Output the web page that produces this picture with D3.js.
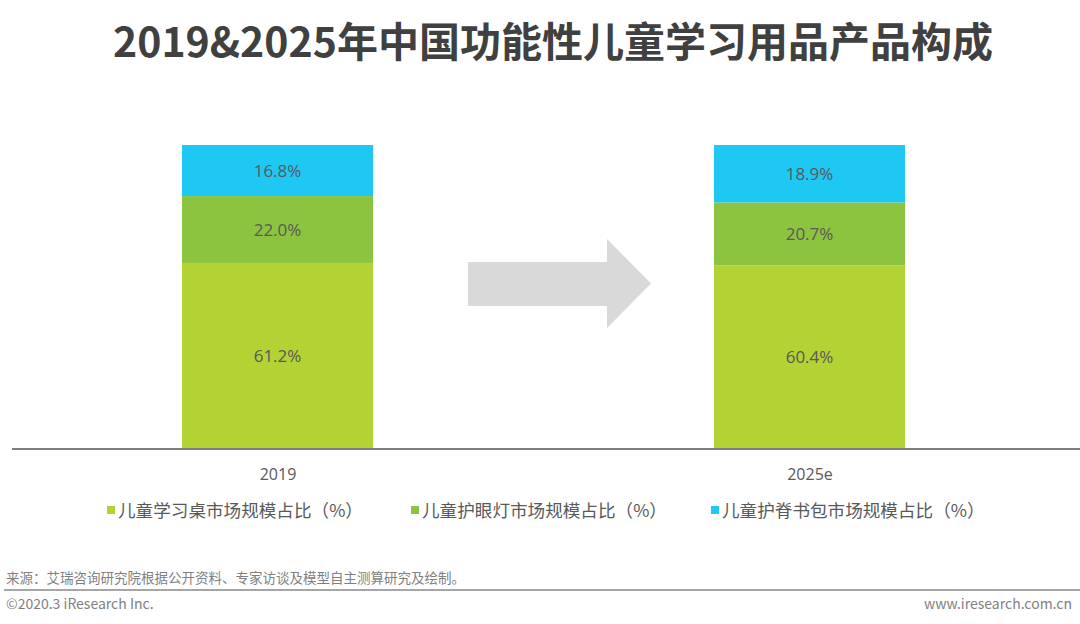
<!DOCTYPE html>
<html><head><meta charset="utf-8">
<script src="https://cdn.jsdelivr.net/npm/d3@7"></script>
<style>body{margin:0;background:#fff}svg{display:block}</style>
</head><body>
<svg id="c" width="1080" height="624"></svg>
<script>
const categories = ["2019", "2025e"];
const seriesNames = ["儿童学习桌市场规模占比（%）", "儿童护眼灯市场规模占比（%）", "儿童护脊书包市场规模占比（%）"];
const deskValues = [61.2, 60.4];
const lampValues = [22.0, 20.7];
const bagValues = [16.8, 18.9];
const colors = ["#b3d234", "#8cc43f", "#1fc8f2"];

const svg = d3.select("#c");
const cjk = "'Noto Sans CJK SC','Noto Sans',sans-serif";

svg.append("text").attr("x", 553).attr("y", 57).attr("text-anchor", "middle")
  .attr("font-family", cjk).attr("font-weight", "bold").attr("font-size", 41)
  .attr("textLength", 880).attr("lengthAdjust", "spacingAndGlyphs")
  .attr("fill", "#404040").text("2019&2025年中国功能性儿童学习用品产品构成");

const x = d3.scalePoint().domain(categories).range([277.5, 809.5]);
const y = d3.scaleLinear().domain([0, 100]).range([449, 145]);
const barW = 191;

const rows = categories.map((c, i) => ({cat: c, vals: [deskValues[i], lampValues[i], bagValues[i]]}));
rows.forEach(r => {
  let acc = 0;
  r.vals.forEach((v, k) => {
    const y0 = acc, y1 = acc + v; acc = y1;
    svg.append("rect").attr("x", x(r.cat) - barW / 2).attr("width", barW)
      .attr("y", y(y1)).attr("height", y(y0) - y(y1)).attr("fill", colors[k]);
    svg.append("text").attr("x", x(r.cat)).attr("y", (y(y0) + y(y1)) / 2 + 6)
      .attr("text-anchor", "middle").attr("font-family", "'Open Sans',sans-serif")
      .attr("font-size", 17).attr("fill", "#595959").text(v.toFixed(1) + "%");
  });
});

// axis
const axis = svg.append("g").attr("transform", "translate(0,449)")
  .call(d3.axisBottom(x).tickSize(0).tickPadding(20));
axis.select(".domain").remove();
axis.append("line").attr("x1", 12).attr("x2", 1080).attr("stroke", "#7f7f7f").attr("stroke-width", 2);
axis.selectAll(".tick text").attr("font-family", "'Open Sans',sans-serif").attr("font-size", 16).attr("fill", "#595959");

// arrow
svg.append("path").attr("d", "M468,262 L607,262 L607,239 L651,283.5 L607,328 L607,306 L468,306 Z").attr("fill", "#d9d9d9");

// legend
const legX = [107, 411, 711];
seriesNames.forEach((s, k) => {
  svg.append("rect").attr("x", legX[k]).attr("y", 506).attr("width", 8).attr("height", 8).attr("fill", colors[k]);
  svg.append("text").attr("x", legX[k] + 11).attr("y", 517).attr("font-family", cjk).attr("font-size", 17.6)
    .attr("fill", "#595959").text(s);
});

// footer
svg.append("text").attr("x", 6).attr("y", 583).attr("font-family", cjk).attr("font-size", 13.5).attr("fill", "#7f7f7f")
  .text("来源：艾瑞咨询研究院根据公开资料、专家访谈及模型自主测算研究及绘制。");
svg.append("line").attr("x1", 4).attr("x2", 1080).attr("y1", 590).attr("y2", 590).attr("stroke", "#a6a6a6").attr("stroke-width", 2);
svg.append("text").attr("x", 6).attr("y", 609).attr("font-family", cjk).attr("font-size", 14).attr("fill", "#7f7f7f")
  .text("©2020.3 iResearch Inc.");
svg.append("text").attr("x", 1072).attr("y", 609).attr("text-anchor", "end").attr("font-family", cjk).attr("font-size", 14).attr("fill", "#7f7f7f")
  .text("www.iresearch.com.cn");
</script>
</body></html>
